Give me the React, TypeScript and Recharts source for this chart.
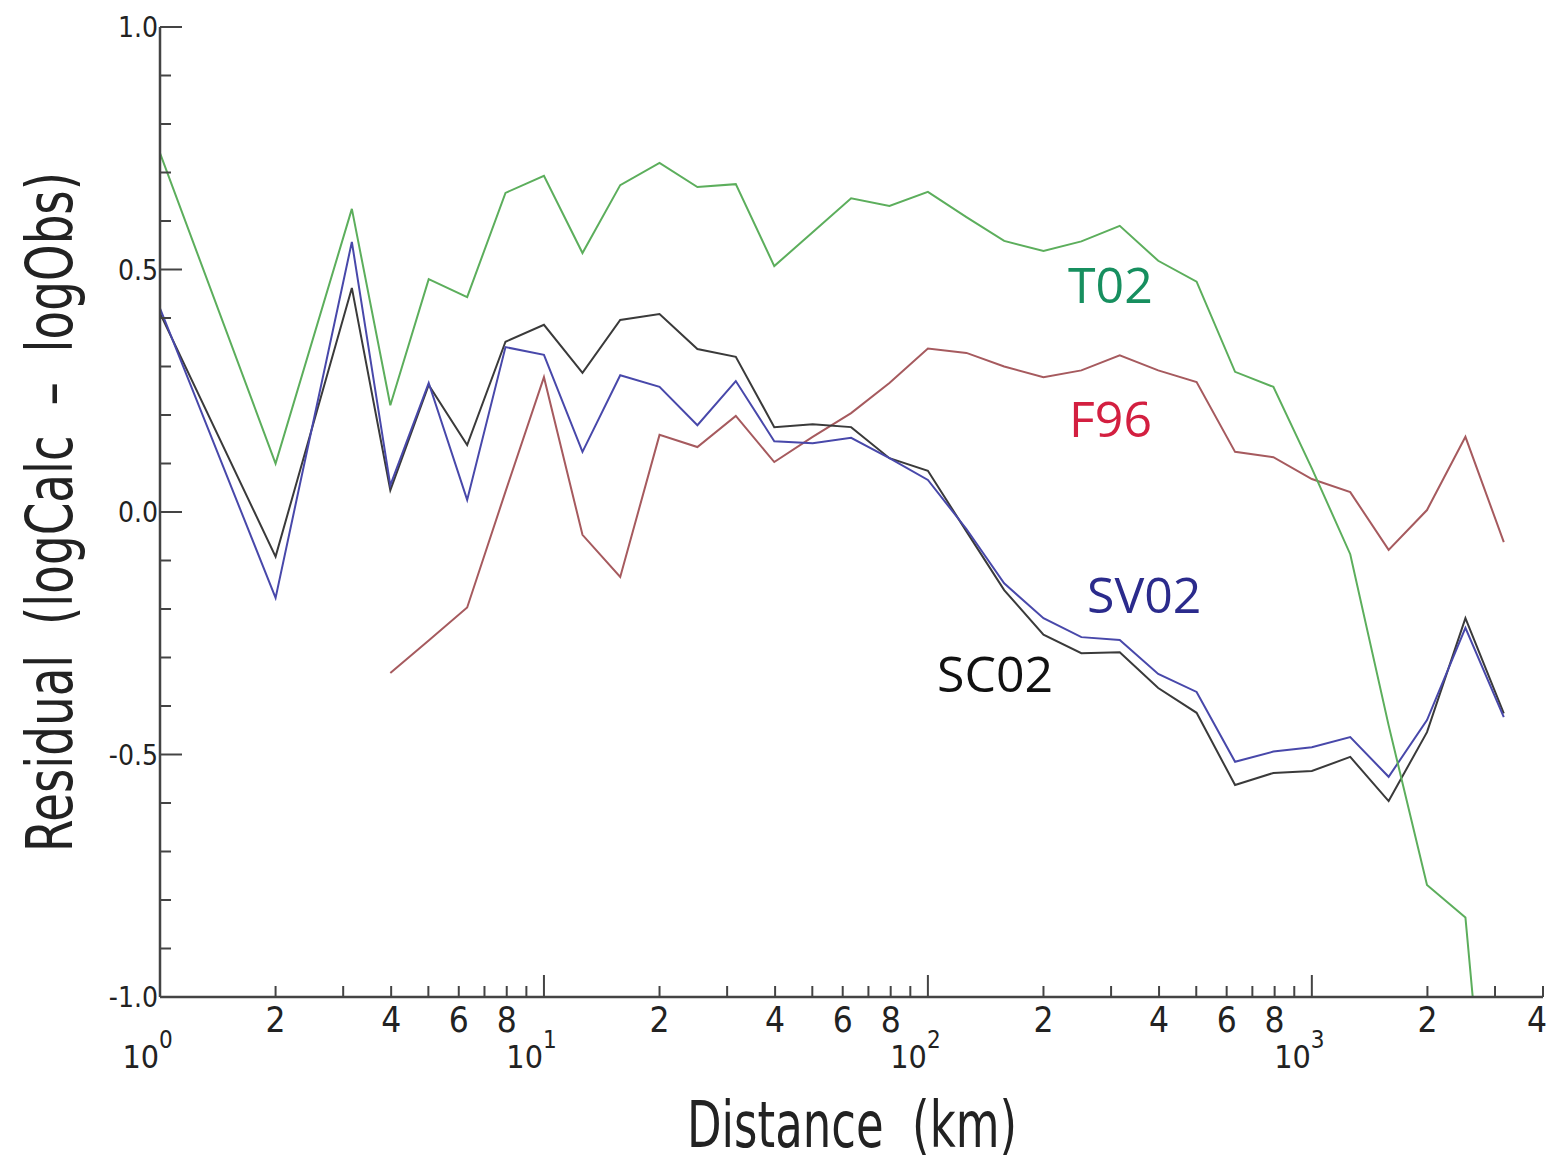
import React from 'react';
import { LineChart, Line, XAxis, YAxis } from 'recharts';

// Distance bins (km), spaced 0.1 in log10 from 3.16 km on
const distances = [
  1, 2, 3.16, 3.98, 5.01, 6.31, 7.94, 10, 12.6, 15.8, 20, 25.1, 31.6, 39.8, 50.1, 63.1, 79.4,
  100, 126, 158, 200, 251, 316, 398, 501, 631, 794, 1000, 1259, 1585, 1995, 2512, 3162,
];

// Mean residual log10(calc) - log10(obs) per model
const t02 = [
  0.74, 0.1, 0.625, 0.22, 0.48, 0.443, 0.658, 0.693, 0.534, 0.674, 0.72, 0.67, 0.676, 0.507, 0.577, 0.647, 0.631,
  0.66, 0.608, 0.559, 0.538, 0.558, 0.59, 0.518, 0.475, 0.289, 0.258, 0.09, -0.087, -0.44, -0.769, -0.836, -1.7,
];
const sc02 = [
  0.41, -0.092, 0.462, 0.045, 0.262, 0.138, 0.351, 0.386, 0.287, 0.396, 0.408, 0.336, 0.32, 0.175, 0.181, 0.175, 0.111,
  0.085, -0.04, -0.161, -0.253, -0.291, -0.289, -0.363, -0.414, -0.563, -0.538, -0.534, -0.505, -0.596, -0.454, -0.219, -0.415,
];
const sv02 = [
  0.42, -0.177, 0.557, 0.055, 0.266, 0.025, 0.34, 0.324, 0.124, 0.282, 0.258, 0.179, 0.27, 0.146, 0.142, 0.153, 0.111,
  0.066, -0.035, -0.147, -0.219, -0.258, -0.264, -0.334, -0.371, -0.515, -0.494, -0.485, -0.464, -0.546, -0.429, -0.239, -0.423,
];
const f96 = [
  null, null, null, -0.332, -0.265, -0.197, 0.042, 0.278, -0.047, -0.134, 0.159, 0.134, 0.198, 0.103, 0.155, 0.204, 0.266,
  0.337, 0.328, 0.3, 0.278, 0.292, 0.323, 0.292, 0.268, 0.124, 0.113, 0.068, 0.041, -0.078, 0.004, 0.155, -0.062,
];

// Axis ticks
const xTicks = [
  1, 2, 3, 4, 5, 6, 7, 8, 9,
  10, 20, 30, 40, 50, 60, 70, 80, 90,
  100, 200, 300, 400, 500, 600, 700, 800, 900,
  1000, 2000, 3000, 4000,
];
const xDecades = [1, 10, 100, 1000];
const xDecadeExponents = ['0', '1', '2', '3'];
const xDigitLabels = [2, 4, 6, 8, 20, 40, 60, 80, 200, 400, 600, 800, 2000, 4000];
const xMax = 4000;

const yTicks = [-1, -0.9, -0.8, -0.7, -0.6, -0.5, -0.4, -0.3, -0.2, -0.1, 0, 0.1, 0.2, 0.3, 0.4, 0.5, 0.6, 0.7, 0.8, 0.9, 1];
const yLabelTicks = [-1, -0.5, 0, 0.5, 1];

const data = distances.map((d, i) => ({ d, T02: t02[i], SC02: sc02[i], SV02: sv02[i], F96: f96[i] }));

const AXIS = '#444';
const TICK_FONT = "'Liberation Sans Narrow', 'DejaVu Sans Condensed', 'Liberation Sans', sans-serif";
const LABEL_FONT = "'Open Sans', 'Noto Sans', sans-serif";

const leadingDigit = (v: number) => Math.round(v / Math.pow(10, Math.floor(Math.log10(v) + 1e-9)));
const isDecade = (v: number) => xDecades.includes(v);
const isHalfUnit = (v: number) => Math.abs(v * 2 - Math.round(v * 2)) < 1e-6;

const BottomTick = (props: any) => {
  const { x, y, payload } = props;
  const v = payload.value as number;
  const major = isDecade(v);
  const len = major ? 22 : 11;
  const di = xDecades.indexOf(v);
  // the last label sits in the corner, nudged inside the page edge
  const lx = v === xMax ? x - 6 : x;
  return (
    <g>
      <line x1={x} x2={x} y1={y} y2={y - len} stroke={AXIS} strokeWidth={2} />
      {xDigitLabels.includes(v) && (
        <text x={lx} y={y + 35} textAnchor="middle" fontFamily={TICK_FONT} fontSize={35} fill="#222">
          {String(leadingDigit(v))}
        </text>
      )}
      {di >= 0 && (
        <g fontFamily={TICK_FONT} fill="#222">
          <text x={x - 1} y={y + 71} textAnchor="end" fontSize={32}>10</text>
          <text x={x - 1} y={y + 51} textAnchor="start" fontSize={24}>{xDecadeExponents[di]}</text>
        </g>
      )}
    </g>
  );
};

const TopTick = (props: any) => {
  const { x, y, payload } = props;
  const len = isDecade(payload.value) ? 22 : 11;
  return <line x1={x} x2={x} y1={y} y2={y + len} stroke={AXIS} strokeWidth={2} />;
};

const LeftTick = (props: any) => {
  const { x, y, payload } = props;
  const v = payload.value as number;
  const major = isHalfUnit(v);
  const len = major ? 22 : 11;
  return (
    <g>
      <line x1={x} x2={x + len} y1={y} y2={y} stroke={AXIS} strokeWidth={2} />
      {yLabelTicks.some((t) => Math.abs(t - v) < 1e-6) && (
        <text x={x - 2} y={y + 10} textAnchor="end" fontFamily={TICK_FONT} fontSize={28} fill="#222">
          {v.toFixed(1)}
        </text>
      )}
    </g>
  );
};

const RightTick = (props: any) => {
  const { x, y, payload } = props;
  const len = isHalfUnit(payload.value) ? 22 : 11;
  return <line x1={x} x2={x - len} y1={y} y2={y} stroke={AXIS} strokeWidth={2} />;
};

const axisLine = { stroke: AXIS, strokeWidth: 2.5 };

export default function App() {
  return (
    <div style={{ position: 'absolute', left: 0, top: 0, width: 1550, height: 1161, background: '#fff' }}>
      <LineChart width={1550} height={1161} data={data} margin={{ top: 27, right: 7, bottom: 64, left: 60 }}>
        <XAxis
          xAxisId="bottom"
          dataKey="d"
          type="number"
          scale="log"
          domain={[1, xMax]}
          allowDataOverflow
          ticks={xTicks}
          interval={0}
          tickSize={0}
          tickMargin={0}
          tickLine={false}
          axisLine={axisLine}
          height={100}
          tick={(p: any) => <BottomTick {...p} />}
        />
        <XAxis
          xAxisId="top"
          orientation="top"
          dataKey="d"
          type="number"
          scale="log"
          domain={[1, xMax]}
          allowDataOverflow
          ticks={xTicks}
          interval={0}
          tickSize={0}
          tickMargin={0}
          tickLine={false}
          axisLine={axisLine}
          height={0}
          tick={(p: any) => <TopTick {...p} />}
        />
        <YAxis
          yAxisId="left"
          type="number"
          domain={[-1, 1]}
          allowDataOverflow
          ticks={yTicks}
          interval={0}
          tickSize={0}
          tickMargin={0}
          tickLine={false}
          axisLine={axisLine}
          width={100}
          tick={(p: any) => <LeftTick {...p} />}
        />
        <YAxis
          yAxisId="right"
          orientation="right"
          type="number"
          domain={[-1, 1]}
          allowDataOverflow
          ticks={yTicks}
          interval={0}
          tickSize={0}
          tickMargin={0}
          tickLine={false}
          axisLine={axisLine}
          width={0}
          tick={(p: any) => <RightTick {...p} />}
        />
        <Line xAxisId="bottom" yAxisId="left" dataKey="F96" stroke="#a65a5e" strokeWidth={2} dot={false} isAnimationActive={false} />
        <Line xAxisId="bottom" yAxisId="left" dataKey="SC02" stroke="#3a3a3a" strokeWidth={2} dot={false} isAnimationActive={false} />
        <Line xAxisId="bottom" yAxisId="left" dataKey="SV02" stroke="#4848aa" strokeWidth={2} dot={false} isAnimationActive={false} />
        <Line xAxisId="bottom" yAxisId="left" dataKey="T02" stroke="#5cae5c" strokeWidth={2} dot={false} isAnimationActive={false} />
      </LineChart>
      <svg
        width={1550}
        height={1161}
        style={{ position: 'absolute', left: 0, top: 0, pointerEvents: 'none' }}
      >
        <text x={1068} y={303} fontFamily={LABEL_FONT} fontSize={50} fill="#178f5f">T02</text>
        <text x={1069} y={437} fontFamily={LABEL_FONT} fontSize={50} fill="#d31f40">F96</text>
        <text x={1087} y={613} fontFamily={LABEL_FONT} fontSize={50} fill="#2b2b8c">SV02</text>
        <text x={937} y={692} fontFamily={LABEL_FONT} fontSize={50} fill="#111">SC02</text>
        <text
          x={852}
          y={1147}
          textAnchor="middle"
          fontFamily={TICK_FONT}
          fontSize={64}
          fill="#222"
          textLength={330}
          lengthAdjust="spacingAndGlyphs"
        >
          {'Distance\u00A0\u00A0(km)'}
        </text>
        <text
          transform="translate(72 512) rotate(-90)"
          x={0}
          y={0}
          textAnchor="middle"
          fontFamily={TICK_FONT}
          fontSize={64}
          fill="#222"
          textLength={680}
          lengthAdjust="spacingAndGlyphs"
        >
          {'Residual\u00A0\u00A0(logCalc\u00A0\u00A0\u2013\u00A0\u00A0logObs)'}
        </text>
      </svg>
    </div>
  );
}
